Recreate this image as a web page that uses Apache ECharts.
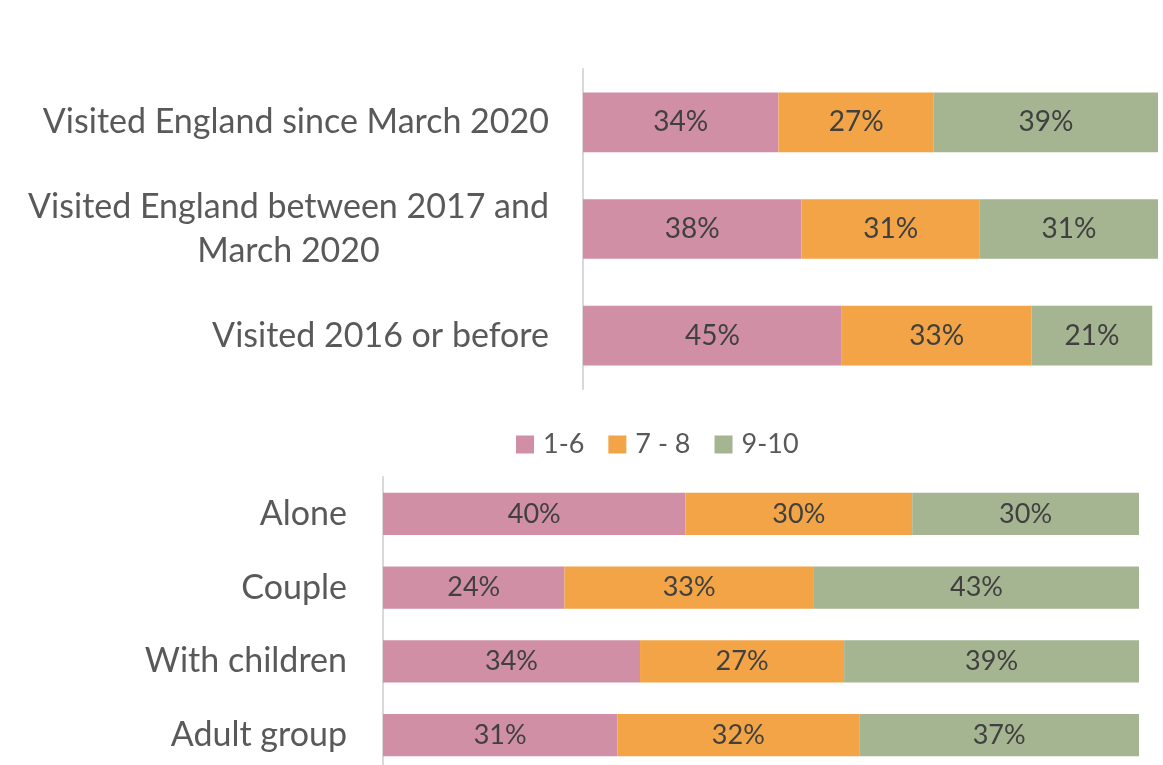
<!DOCTYPE html>
<html>
  <head>
    <meta charset="utf-8" />
    <title>Satisfaction by visit timing and party</title>
    <script src="https://cdn.jsdelivr.net/npm/echarts@6/dist/echarts.min.js"></script>
  </head>
  <body style="margin: 0">
    <div id="main" style="width: 1163px; height: 765px"></div>
  </body>

  <script>
    var myChart = echarts.init(document.getElementById("main"));

    // top chart: when visited
    var visitCategories = [
      "Visited England since March 2020",
      "Visited England between 2017 and\nMarch 2020",
      "Visited 2016 or before",
    ];
    var visitLow = [34, 38, 45];
    var visitMid = [27, 31, 33];
    var visitHigh = [39, 31, 21];

    // bottom chart: who travelled with
    var partyCategories = ["Alone", "Couple", "With children", "Adult group"];
    var partyLow = [40, 24, 34, 31];
    var partyMid = [30, 33, 27, 32];
    var partyHigh = [30, 43, 39, 37];

    var seriesNames = ["1-6", "7 - 8", "9-10"];
    var colors = ["#D08FA5", "#F2A446", "#A5B491"];

    var fontName = "Lato";

    // keep wrapped lines centred inside a right-aligned block
    function catLabel(v) {
      return v
        .split("\n")
        .map(function (s) {
          return "{c|" + s + "}";
        })
        .join("\n");
    }

    function makeSeries(name, data, idx, color, labelSize) {
      return {
        name: name,
        type: "bar",
        stack: "s" + idx,
        xAxisIndex: idx,
        yAxisIndex: idx,
        barCategoryGap: idx === 0 ? "44%" : "43%",
        itemStyle: { color: color },
        label: {
          show: true,
          position: "inside",
          formatter: "{c}%",
          color: "#404040",
          fontSize: labelSize,
          fontFamily: fontName,
        },
        data: data,
      };
    }

    var axisLabelStyle = {
      color: "#595959",
      fontSize: 34,
      fontFamily: fontName,
      formatter: catLabel,
      rich: {
        c: {
          align: "center",
          color: "#595959",
          fontSize: 34,
          fontFamily: fontName,
          lineHeight: 44,
        },
      },
    };

    option = {
      backgroundColor: "#ffffff",
      color: colors,
      legend: {
        data: seriesNames,
        left: 516,
        top: 431,
        padding: 0,
        itemWidth: 18,
        itemHeight: 18,
        itemGap: 24,
        icon: "rect",
        textStyle: {
          color: "#595959",
          fontSize: 27,
          fontFamily: fontName,
          padding: [0, 0, 0, 4],
        },
      },
      grid: [
        { left: 583, right: 5, top: 69, height: 320, outerBoundsMode: "none" },
        { left: 383, right: 24, top: 477, height: 295, outerBoundsMode: "none" },
      ],
      xAxis: [
        { type: "value", gridIndex: 0, min: 0, max: 100, show: false },
        { type: "value", gridIndex: 1, min: 0, max: 100, show: false },
      ],
      yAxis: [
        {
          type: "category",
          gridIndex: 0,
          inverse: true,
          data: visitCategories,
          axisLine: { lineStyle: { color: "#d9d9d9", width: 2 } },
          axisTick: { show: false },
          axisLabel: Object.assign({ margin: 34 }, axisLabelStyle),
        },
        {
          type: "category",
          gridIndex: 1,
          inverse: true,
          data: partyCategories,
          axisLine: { lineStyle: { color: "#d9d9d9", width: 2 } },
          axisTick: { show: false },
          axisLabel: Object.assign({ margin: 36 }, axisLabelStyle),
        },
      ],
      series: [
        makeSeries(seriesNames[0], visitLow, 0, colors[0], 28),
        makeSeries(seriesNames[1], visitMid, 0, colors[1], 28),
        makeSeries(seriesNames[2], visitHigh, 0, colors[2], 28),
        makeSeries(seriesNames[0], partyLow, 1, colors[0], 27),
        makeSeries(seriesNames[1], partyMid, 1, colors[1], 27),
        makeSeries(seriesNames[2], partyHigh, 1, colors[2], 27),
      ],
    };

    myChart.setOption(option);
  </script>
</html>
